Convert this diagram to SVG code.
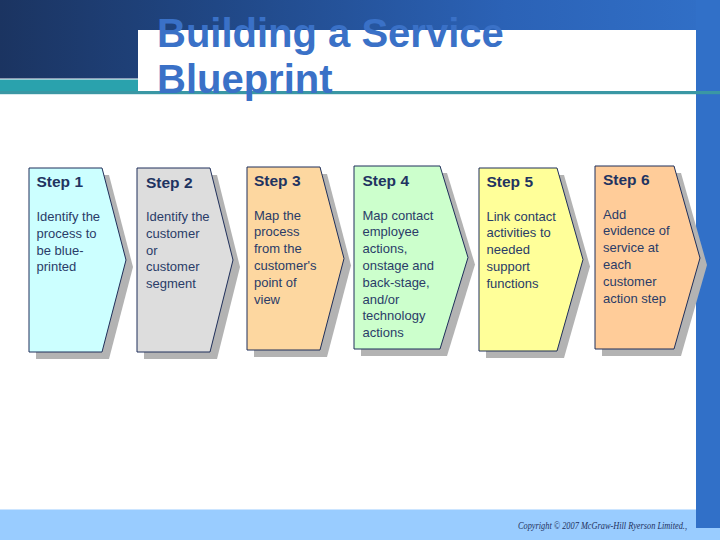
<svg xmlns="http://www.w3.org/2000/svg" width="720" height="540" viewBox="0 0 720 540">
<defs>
<linearGradient id="band" x1="0" y1="0" x2="720" y2="0" gradientUnits="userSpaceOnUse">
<stop offset="0" stop-color="#1b3461"/>
<stop offset="0.3" stop-color="#204785"/>
<stop offset="0.7" stop-color="#2b62b6"/>
<stop offset="1" stop-color="#3170c8"/>
</linearGradient>
<style>
.shadow{fill:#b3b3b3}
.box{stroke:#1f2f5a;stroke-width:1}
.hd{font-family:"Liberation Sans",Arial,sans-serif;font-weight:bold;font-size:15.5px;fill:#1f3461}
.bd{font-family:"Liberation Sans",Arial,sans-serif;font-size:13px;fill:#2a3c68}
.title{font-family:"Liberation Sans",Arial,sans-serif;font-weight:bold;font-size:40px;fill:#3a71c7}
</style>
</defs>
<rect x="0" y="0" width="720" height="540" fill="#ffffff"/>
<!-- header -->
<rect x="0" y="0" width="720" height="30" fill="url(#band)"/>
<rect x="0" y="0" width="138" height="78.5" fill="url(#band)"/>
<rect x="0" y="79.5" width="138" height="12" fill="#2aa2ad"/>
<rect x="0" y="91" width="720" height="3.2" fill="#3a97a4"/>
<!-- bottom band and right bar -->
<rect x="0" y="509.5" width="720" height="30.5" fill="#99ccff"/>
<rect x="696" y="0" width="24" height="528" fill="#3170c8"/>
<rect x="696" y="91" width="24" height="3.2" fill="#3a97a4"/>
<g id="title">
<text class="title" x="157" y="47">Building a Service</text>
<text class="title" x="157" y="93">Blueprint</text>
</g>
<g id="step1">
<polygon class="shadow" points="36,175 109,175 133,267 109,359 36,359"/>
<polygon class="box" fill="#ccffff" points="29,168 102,168 126,260 102,352 29,352"/>
<text class="hd" x="36.5" y="187">Step 1</text>
<text class="bd" x="36.5" y="221">Identify the<tspan x="36.5" dy="16.8">process to</tspan><tspan x="36.5" dy="16.8">be blue-</tspan><tspan x="36.5" dy="16.8">printed</tspan></text>
</g>
<g id="step2">
<polygon class="shadow" points="144,175 217,175 240,267 217,359 144,359"/>
<polygon class="box" fill="#dddddd" points="137,168 210,168 233,260 210,352 137,352"/>
<text class="hd" x="146" y="187.5">Step 2</text>
<text class="bd" x="146" y="221">Identify the<tspan x="146" dy="16.8">customer</tspan><tspan x="146" dy="16.8">or</tspan><tspan x="146" dy="16.8">customer</tspan><tspan x="146" dy="16.8">segment</tspan></text>
</g>
<g id="step3">
<polygon class="shadow" points="254,174 327,174 351,265.5 327,357 254,357"/>
<polygon class="box" fill="#fdd7a0" points="247,167 320,167 344,258.5 320,350 247,350"/>
<text class="hd" x="254" y="186">Step 3</text>
<text class="bd" x="254" y="219.5">Map the<tspan x="254" dy="16.8">process</tspan><tspan x="254" dy="16.8">from the</tspan><tspan x="254" dy="16.8">customer's</tspan><tspan x="254" dy="16.8">point of</tspan><tspan x="254" dy="16.8">view</tspan></text>
</g>
<g id="step4">
<polygon class="shadow" points="361,173 447,173 475,264.5 447,356 361,356"/>
<polygon class="box" fill="#ccffcc" points="354,166 440,166 468,257.5 440,349 354,349"/>
<text class="hd" x="362.5" y="185.5">Step 4</text>
<text class="bd" x="362.5" y="219.5">Map contact<tspan x="362.5" dy="16.8">employee</tspan><tspan x="362.5" dy="16.8">actions,</tspan><tspan x="362.5" dy="16.8">onstage and</tspan><tspan x="362.5" dy="16.8">back-stage,</tspan><tspan x="362.5" dy="16.8">and/or</tspan><tspan x="362.5" dy="16.8">technology</tspan><tspan x="362.5" dy="16.8">actions</tspan></text>
</g>
<g id="step5">
<polygon class="shadow" points="486,175 564,175 590,266.5 564,358 486,358"/>
<polygon class="box" fill="#ffff99" points="479,168 557,168 583,259.5 557,351 479,351"/>
<text class="hd" x="486.5" y="187">Step 5</text>
<text class="bd" x="486.5" y="220.5">Link contact<tspan x="486.5" dy="16.8">activities to</tspan><tspan x="486.5" dy="16.8">needed</tspan><tspan x="486.5" dy="16.8">support</tspan><tspan x="486.5" dy="16.8">functions</tspan></text>
</g>
<g id="step6">
<polygon class="shadow" points="602,173 681,173 707,265 681,356 602,356"/>
<polygon class="box" fill="#ffcc99" points="595,166 674,166 700,258 674,349 595,349"/>
<text class="hd" x="603" y="185">Step 6</text>
<text class="bd" x="603" y="218.5">Add<tspan x="603" dy="16.8">evidence of</tspan><tspan x="603" dy="16.8">service at</tspan><tspan x="603" dy="16.8">each</tspan><tspan x="603" dy="16.8">customer</tspan><tspan x="603" dy="16.8">action step</tspan></text>
</g>
<g id="connectors"></g>
<text x="518" y="529" font-family="'Liberation Serif','Times New Roman',serif" font-style="italic" font-size="10" fill="#1f3260" textLength="169" lengthAdjust="spacingAndGlyphs">Copyright © 2007 McGraw-Hill Ryerson Limited.,</text>
</svg>
